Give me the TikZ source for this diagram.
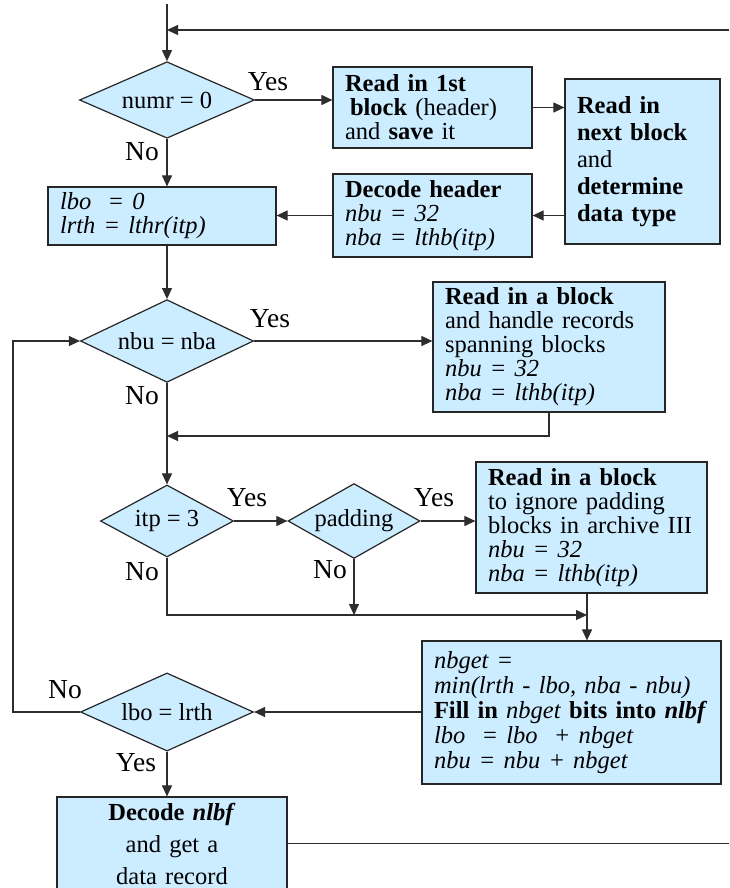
\documentclass[tikz,border=0pt]{standalone}
\usepackage{fontspec}
\setmainfont{Liberation Serif}
\usetikzlibrary{arrows.meta,shapes.geometric}
\definecolor{boxblue}{RGB}{204,236,255}
\definecolor{lineclr}{RGB}{45,45,45}

\begin{document}
\begin{tikzpicture}[x=1pt, y=-1pt,
	line/.style={draw=lineclr, line width=1.1pt},
	arr/.style={-{Triangle[length=11pt,width=10pt]}},
	blk/.style={draw=black!85, fill=boxblue, line width=1.2pt, inner xsep=12pt, inner ysep=3pt, align=left, font=\fontsize{24.5}{24}\selectfont},
	test/.style={diamond, draw=black!85, fill=boxblue, line width=1.2pt, inner sep=0pt, aspect=1.5, font=\fontsize{24.5}{26}\selectfont},
	lbl/.style={inner sep=0pt, font=\fontsize{27.5}{28}\selectfont}]
			%%%%% START %%%%%
			
			\useasboundingbox (0,0) rectangle (729,888);
			\clip (0,0) rectangle (729,888);
			
			\coordinate (start) at (167,4);
			\coordinate (loopin) at (167,30);
			\coordinate (edgein) at (729,30);
			\coordinate (join1) at (167,436);
			\coordinate (feed) at (587,615);
			\coordinate (back) at (13,341);
			
			% decisions
			\node[test, minimum width=175pt, minimum height=70pt] (numr) at (167,100) {numr = 0};
			\node[test, minimum width=173pt, minimum height=72pt] (nbu) at (167,341) {nbu = nba};
			\node[test, minimum width=133pt, minimum height=72pt] (itp) at (167,521) {itp = 3};
			\node[test, minimum width=132pt, minimum height=73pt] (padding) at (354,521) {padding};
			\node[test, minimum width=173pt, minimum height=72pt] (lbo) at (167,712) {lbo = lrth};
			
			% blocks
			\node[blk, minimum width=199pt, minimum height=81pt, text width=175pt] (readfirst) at (432.5,107.5)
				{\textbf{Read in 1st}\\\hspace*{5pt}\textbf{block} (header)\\and \textbf{save} it};
			\node[blk, minimum width=155pt, minimum height=165pt, text width=131pt, font=\fontsize{24.5}{27}\selectfont] (readnext) at (642.5,161.5)
				{\textbf{Read in}\\\textbf{next block}\\and\\\textbf{determine}\\\textbf{data type}};
			\node[blk, minimum width=199pt, minimum height=83pt, text width=175pt] (dechdr) at (432.5,215.5)
				{\textbf{Decode header}\\\textit{nbu = 32}\\\textit{nba = lthb(itp)}};
			\node[blk, minimum width=228pt, minimum height=58pt, text width=204pt] (init) at (162,216)
				{\textit{lbo~~= 0}\\\textit{lrth = lthr(itp)}};
			\node[blk, minimum width=232pt, minimum height=130pt, text width=208pt] (spanning) at (549,347)
				{\textbf{Read in a block}\\and handle records\\spanning blocks\\\textit{nbu = 32}\\\textit{nba = lthb(itp)}};
			\node[blk, minimum width=231pt, minimum height=131pt, text width=207pt] (padblock) at (591.5,527.5)
				{\textbf{Read in a block}\\to ignore padding\\blocks in archive III\\\textit{nbu = 32}\\\textit{nba = lthb(itp)}};
			\node[blk, minimum width=299pt, minimum height=143pt, text width=275pt, font=\fontsize{24.5}{25}\selectfont] (fill) at (571.5,712.5)
				{\textit{nbget =}\\\textit{min(lrth - lbo, nba - nbu)}\\\textbf{Fill in} \textit{nbget} \textbf{bits into \textit{nlbf}}\\\textit{lbo~~= lbo~~+ nbget}\\\textit{nbu = nbu + nbget}};
			\node[blk, minimum width=230pt, minimum height=93pt, text width=206pt, align=center, font=\fontsize{24.5}{32}\selectfont] (decrec) at (172,843.5)
				{\textbf{Decode \textit{nlbf}}\\and get a\\data record};
			
			% labels
			\node[lbl] (yes1) at (268,82) {Yes};
			\node[lbl] (no1) at (142,152) {No};
			\node[lbl] (yes2) at (270,319) {Yes};
			\node[lbl] (no2) at (142,396) {No};
			\node[lbl] (yes3) at (247,498) {Yes};
			\node[lbl] (no3) at (142,572) {No};
			\node[lbl] (yes4) at (434,498) {Yes};
			\node[lbl] (no4) at (330,570) {No};
			\node[lbl] (no5) at (65,690) {No};
			\node[lbl] (yes5) at (136,763) {Yes};
			
			% connectors
			\draw[line, arr] (start) -- (numr.north);
			\draw[line, arr] (edgein) -- (loopin);
			\draw[line, arr] (numr.east) -- (numr.east -| readfirst.west);
			\draw[line, arr] (readfirst.east) -- (readfirst.east -| readnext.west);
			\draw[line, arr] (readnext.west |- dechdr.east) -- (dechdr.east);
			\draw[line, arr] (dechdr.west) -- (dechdr.west -| init.east);
			\draw[line, arr] (numr.south) -- (numr.south |- init.north);
			\draw[line, arr] (nbu.north |- init.south) -- (nbu.north);
			\draw[line, arr] (nbu.east) -- (nbu.east -| spanning.west);
			\draw[line, arr] (spanning.south) |- (join1);
			\draw[line, arr] (nbu.south) -- (itp.north);
			\draw[line, arr] (itp.east) -- (padding.west);
			\draw[line, arr] (padding.east) -- (padding.east -| padblock.west);
			\draw[line, arr] (padding.south) -- (padding.south |- feed);
			\draw[line, arr] (itp.south) |- (feed);
			\draw[line, arr] (feed |- padblock.south) -- (feed |- fill.north);
			\draw[line, arr] (fill.west |- lbo.east) -- (lbo.east);
			\draw[line, arr] (lbo.west) -| (back) -- (nbu.west);
			\draw[line, arr] (lbo.south) -- (lbo.south |- decrec.north);
			\draw[line] (decrec.east) -- (decrec.east -| edgein);
			
			%%%%% END %%%%%
\end{tikzpicture}
\end{document}
